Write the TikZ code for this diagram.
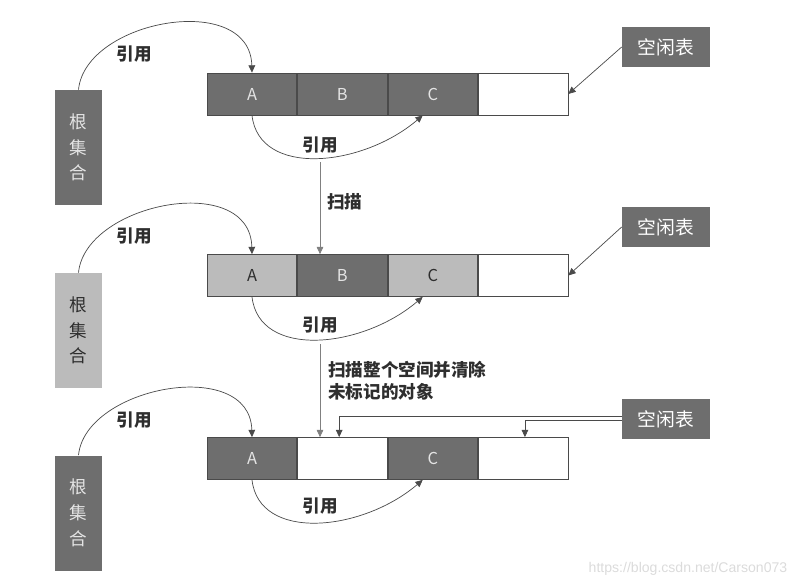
\documentclass[tikz,border=0pt]{standalone}
\usepackage{fontspec}
\newfontfamily\cjk{Noto Sans CJK SC}
\newfontfamily\urlfont{Liberation Sans}
\usetikzlibrary{arrows.meta, positioning, calc}
\definecolor{cdark}{HTML}{6E6E6E}
\definecolor{clight}{HTML}{BBBBBB}
\definecolor{cline}{HTML}{4A4A4A}
\definecolor{ctext}{HTML}{2E2E2E}
\definecolor{cpale}{HTML}{E4E4E4}
\tikzset{
  every picture/.style={font=\cjk, line width=0.6pt},
  cell/.style={draw=cline, fill=#1, minimum width=2.69cm, minimum height=1.26cm, inner sep=0pt, font=\cjk\fontsize{14}{16}\selectfont},
  cell/.default=white,
  darkcell/.style={cell=cdark, text=cpale},
  lightcell/.style={cell=clight, text=ctext},
  root/.style={fill=#1, minimum width=1.41cm, minimum height=3.45cm, align=center, inner sep=0pt, font=\cjk\fontsize{15}{22}\selectfont},
  freelist/.style={fill=cdark, text=white, minimum width=2.64cm, minimum height=1.2cm, inner sep=0pt, font=\cjk\fontsize{16}{18}\selectfont},
  ref/.style={draw=cline, -{Triangle[length=2.2mm, width=2mm]}},
  scan/.style={draw=black!50, -{Triangle[length=2.2mm, width=2mm]}},
  label/.style={font=\cjk\bfseries\fontsize{15}{19}\selectfont, text=ctext, align=left, inner sep=0pt},
}

\begin{document}
\begin{tikzpicture}[x=0.03cm, y=-0.03cm]
  \useasboundingbox (0,0) rectangle (810,588);
  % first row: everything marked
  \node[darkcell] (a1) at (252,94) {A};
  \node[darkcell, right=0pt of a1] (b1) {B};
  \node[darkcell, right=0pt of b1] (c1) {C};
  \node[cell, right=0pt of c1] (d1) {};
  \node[root=cdark, text=cpale] (r1) at (78.5,147.5) {根\\集\\合};
  \node[freelist] (f1) at (666,47) {空闲表};
  \draw[ref] (r1.north) .. controls +(7,-70) and +(-2,-82) .. (a1.north);
  \draw[ref] (a1.south) .. controls +(7,62) and +(-61,52) .. ([xshift=-0.3cm]c1.south);
  \draw[ref] (f1.west) -- (d1.east);
  \node[label] (l1) at (134,54) {引用};
  \node[label] (m1) at (320,145) {引用};

  % second row: scanning
  \node[lightcell] (a2) at (252,275.5) {A};
  \node[darkcell, right=0pt of a2] (b2) {B};
  \node[lightcell, right=0pt of b2] (c2) {C};
  \node[cell, right=0pt of c2] (d2) {};
  \node[root=clight, text=ctext] (r2) at (78.5,330.5) {根\\集\\合};
  \node[freelist] (f2) at (666,227) {空闲表};
  \draw[ref] (r2.north) .. controls +(7,-70) and +(-2,-83) .. (a2.north);
  \draw[ref] (a2.south) .. controls +(7,62) and +(-61,52) .. ([xshift=-0.3cm]c2.south);
  \draw[ref] (f2.west) -- (d2.east);
  \node[label] (l2) at (134,236) {引用};
  \node[label] (m2) at (320,325) {引用};

  \coordinate (s1) at (320,162);
  \draw[scan] (s1) -- (s1 |- b2.north);
  \node[label, anchor=west] (t1) at (327,202) {扫描};

  % third row: after sweeping
  \node[darkcell] (a3) at (252,458.5) {A};
  \node[cell, right=0pt of a3] (b3) {};
  \node[darkcell, right=0pt of b3] (c3) {C};
  \node[cell, right=0pt of c3] (d3) {};
  \node[root=cdark, text=cpale] (r3) at (78.5,513) {根\\集\\合};
  \node[freelist] (f3) at (666,419) {空闲表};
  \draw[ref] (r3.north) .. controls +(7,-69) and +(-2,-81) .. (a3.north);
  \draw[ref] (a3.south) .. controls +(7,62) and +(-61,52) .. ([xshift=-0.3cm]c3.south);
  \draw[ref] ([yshift=0.09cm]f3.west) -| ([xshift=1.26cm]b3.north west);
  \draw[ref] ([yshift=-0.05cm]f3.west) -| ([xshift=1.41cm]d3.north west);
  \node[label] (l3) at (134,420) {引用};
  \node[label] (m3) at (320,506) {引用};

  \coordinate (s2) at (320,344);
  \draw[scan] (s2) -- (s2 |- b3.north);
  \node[label, anchor=north west] (t2) at (328,361) {扫描整个空间并清除\\未标记的对象};

  \node[font=\urlfont\fontsize{12}{14}\selectfont, text=black!14] (wm) at (688,569) {https://blog.csdn.net/Carson073};
\end{tikzpicture}
\end{document}
